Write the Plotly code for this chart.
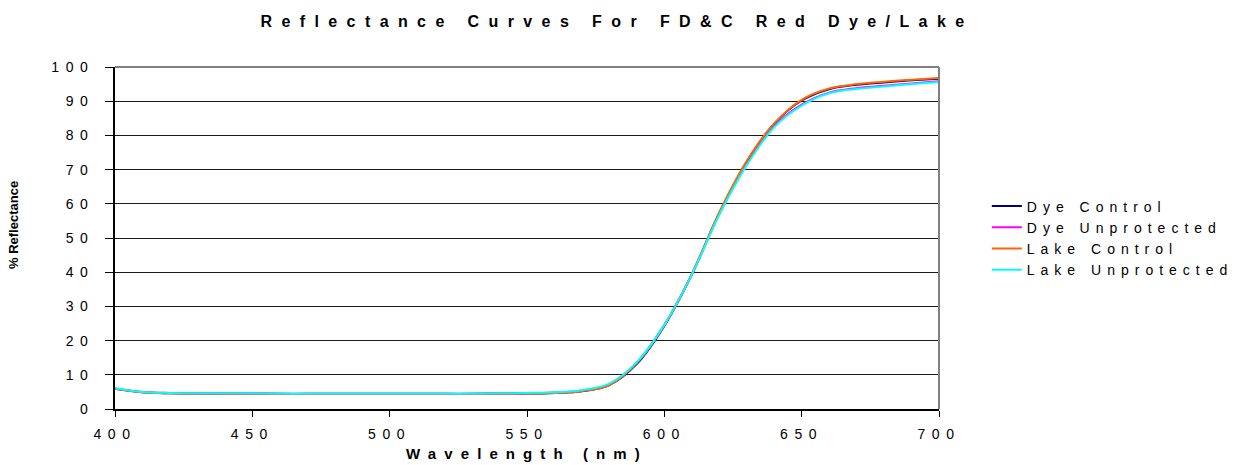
import plotly.graph_objects as go

wavelength = [400, 410, 420, 430, 440, 450, 460, 470, 480, 490, 500, 510, 520, 530, 540, 550,
              560, 570, 580, 590, 600, 610, 620, 630, 640, 650, 660, 670, 680, 690, 700]

dye_control = [5.9, 4.9, 4.6, 4.5, 4.5, 4.5, 4.4, 4.4, 4.4, 4.4, 4.4, 4.4, 4.4, 4.4, 4.5, 4.5,
               4.7, 5.2, 7.0, 13.2, 24.3, 39.3, 57.3, 72.3, 83.4, 90.2, 93.5, 94.8, 95.5, 96.1, 96.6]
dye_unprotected = [6.0, 5.0, 4.7, 4.6, 4.6, 4.6, 4.5, 4.5, 4.5, 4.5, 4.5, 4.5, 4.5, 4.5, 4.6, 4.6,
                   4.8, 5.4, 7.3, 13.6, 24.6, 39.4, 57.0, 71.6, 82.7, 89.0, 92.5, 93.8, 94.5, 95.2, 95.8]
lake_control = [5.9, 4.9, 4.6, 4.5, 4.5, 4.5, 4.4, 4.4, 4.4, 4.4, 4.4, 4.4, 4.4, 4.4, 4.5, 4.5,
                4.7, 5.2, 7.0, 13.5, 24.5, 39.5, 57.5, 72.5, 83.5, 90.4, 93.7, 95.0, 95.7, 96.3, 96.8]
lake_unprotected = [6.1, 5.0, 4.7, 4.6, 4.6, 4.6, 4.5, 4.5, 4.5, 4.5, 4.5, 4.5, 4.5, 4.5, 4.6, 4.7,
                    4.9, 5.5, 7.4, 13.7, 24.6, 39.3, 56.8, 71.3, 82.4, 88.7, 92.3, 93.6, 94.3, 95.0, 95.6]

series_names = ["Dye Control", "Dye Unprotected", "Lake Control", "Lake Unprotected"]
series_colors = ["#000080", "#FF00FF", "#FF6600", "#00FFFF"]
series_values = [dye_control, dye_unprotected, lake_control, lake_unprotected]

x_ticks = [400, 450, 500, 550, 600, 650, 700]
y_ticks = [0, 10, 20, 30, 40, 50, 60, 70, 80, 90, 100]

title_text = "Reflectance Curves For FD&C Red Dye/Lake"
x_title = "Wavelength (nm)"
y_title = "% Reflectance"

FONT = "Liberation Sans, Arial, sans-serif"


def ls(text, px):
    return '<span style="letter-spacing:%.1fpx">%s</span>' % (px, text)


fig = go.Figure()
for name, color, vals in zip(series_names, series_colors, series_values):
    fig.add_trace(go.Scatter(
        x=wavelength, y=vals, mode="lines", name=ls(name, 6.0),
        line=dict(color=color, width=2, shape="spline", smoothing=1.0),
    ))

fig.update_layout(
    width=1234, height=465,
    margin=dict(l=115, r=295, t=67, b=56, autoexpand=False),
    paper_bgcolor="white", plot_bgcolor="white",
    font=dict(family=FONT, size=14, color="black"),
    title=dict(text="<b>" + ls(title_text, 9.4) + "</b>", x=0.5, xanchor="center",
               y=1 - 21 / 465, yanchor="middle", font=dict(size=16, family=FONT)),
    legend=dict(x=1.058, xanchor="left", y=0.5, yanchor="middle",
                font=dict(size=14, family=FONT), tracegroupgap=0,
                bgcolor="rgba(0,0,0,0)", itemwidth=30),
    showlegend=True,
)

fig.update_xaxes(
    range=[400, 700], tickvals=x_ticks, ticktext=[ls(str(v), 6.6) for v in x_ticks],
    showline=True, linecolor="black", linewidth=1.5,
    ticks="outside", ticklen=6, tickcolor="black", tickwidth=1,
    showgrid=False, zeroline=False, ticklabelstandoff=5, automargin=False,
    tickfont=dict(size=14),
    title=dict(text="<b>" + ls(x_title, 8.1) + "</b>", standoff=8, font=dict(size=15, family=FONT)),
)
fig.update_yaxes(
    range=[0, 100], tickvals=y_ticks, ticktext=[ls(str(v), 6.6) for v in y_ticks],
    showline=True, linecolor="black", linewidth=1.5,
    ticks="outside", ticklen=8, tickcolor="black", tickwidth=1,
    showgrid=True, gridcolor="#1a1a1a", gridwidth=1, zeroline=False,
    ticklabelstandoff=8, automargin=False, tickfont=dict(size=14),
)

fig.add_annotation(text="<b>" + y_title + "</b>", textangle=-90, xref="paper", yref="paper",
                   x=-(115 - 13) / 824, y=(409 - 225) / 342, xanchor="center", yanchor="middle",
                   showarrow=False, font=dict(size=13, family=FONT))

fig.add_shape(type="line", xref="x domain", yref="y domain", x0=0, x1=1, y0=1, y1=1,
              line=dict(color="#808080", width=2), layer="above")
fig.add_shape(type="line", xref="x domain", yref="y domain", x0=1, x1=1, y0=0, y1=1,
              line=dict(color="#808080", width=2), layer="above")

fig.write_html("out.html", config={"displayModeBar": False},
               post_script="document.body.style.margin='0';")
